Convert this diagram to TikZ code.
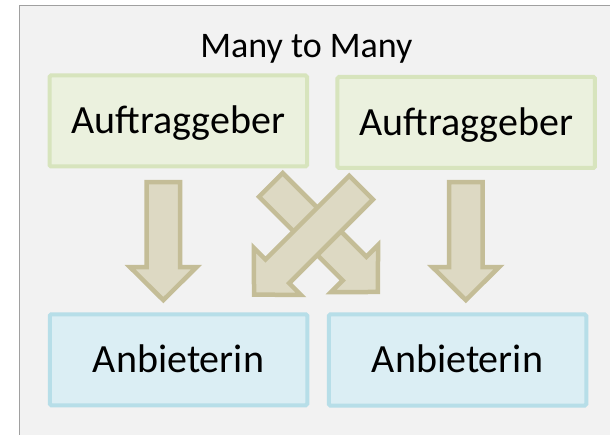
\documentclass[tikz,border=0pt]{standalone}
\usepackage{fontspec}
\setmainfont{Carlito}
\definecolor{bgfill}{HTML}{F2F2F2}
\definecolor{framecol}{HTML}{A0A0A0}
\definecolor{gfill}{HTML}{EBF1DE}
\definecolor{gline}{HTML}{D7E4BD}
\definecolor{bfill}{HTML}{DBEEF4}
\definecolor{bline}{HTML}{B7DEE8}
\definecolor{afill}{HTML}{DDD9C3}
\definecolor{aline}{HTML}{C4BD97}
\tikzset{
  box/.style={rectangle, line width=4pt, rounded corners=1.5pt,
    minimum width=257.5pt, minimum height=91pt, inner sep=0pt,
    text height=25.3pt, text depth=0pt,
    font=\fontsize{40}{48}\selectfont},
  gbox/.style={box, draw=gline, fill=gfill},
  bbox/.style={box, draw=bline, fill=bfill},
  blockarrow/.style={draw=aline, fill=afill, line width=4.5pt, miter limit=10},
  titletext/.style={inner sep=0pt, anchor=base, font=\fontsize{36}{43}\selectfont}
}
% #1 = length of the arrow path
\newcommand{\barrowpath}[1]{(0,-16.75) -- ({#1-33},-16.75) -- ({#1-33},-33.3) -- (#1,0) -- ({#1-33},33.3) -- ({#1-33},16.75) -- (0,16.75) -- cycle}
\begin{document}
\begin{tikzpicture}[x=1pt,y=-1pt]
\useasboundingbox (0,0) rectangle (610,435);
\fill[white] (0,0) rectangle (610,435);
\draw[framecol, fill=bgfill, line width=1pt] (19,5.5) rectangle (640,460);

\node[titletext] (title) at (306.4,57.7) {Many to Many};

\node[gbox] (g1) at (178.25,121) {Auftraggeber};
\node[gbox] (g2) at (466.2,122.5) {Auftraggeber};
\node[bbox] (b1) at (178.5,359.8) {Anbieterin};
\node[bbox] (b2) at (457.5,360) {Anbieterin};

% straight down arrows
\draw[blockarrow, shift={(163.3,182.25)}, rotate=-90] \barrowpath{117.85};
\draw[blockarrow, shift={(465.8,182.25)}, rotate=-90] \barrowpath{117.85};
% crossing arrows
\draw[blockarrow, shift={(270.8,184.9)}, rotate=-45] \barrowpath{151.4};
\draw[blockarrow, shift={(361.1,187.6)}, rotate=-135] \barrowpath{151.4};
\end{tikzpicture}
\end{document}
